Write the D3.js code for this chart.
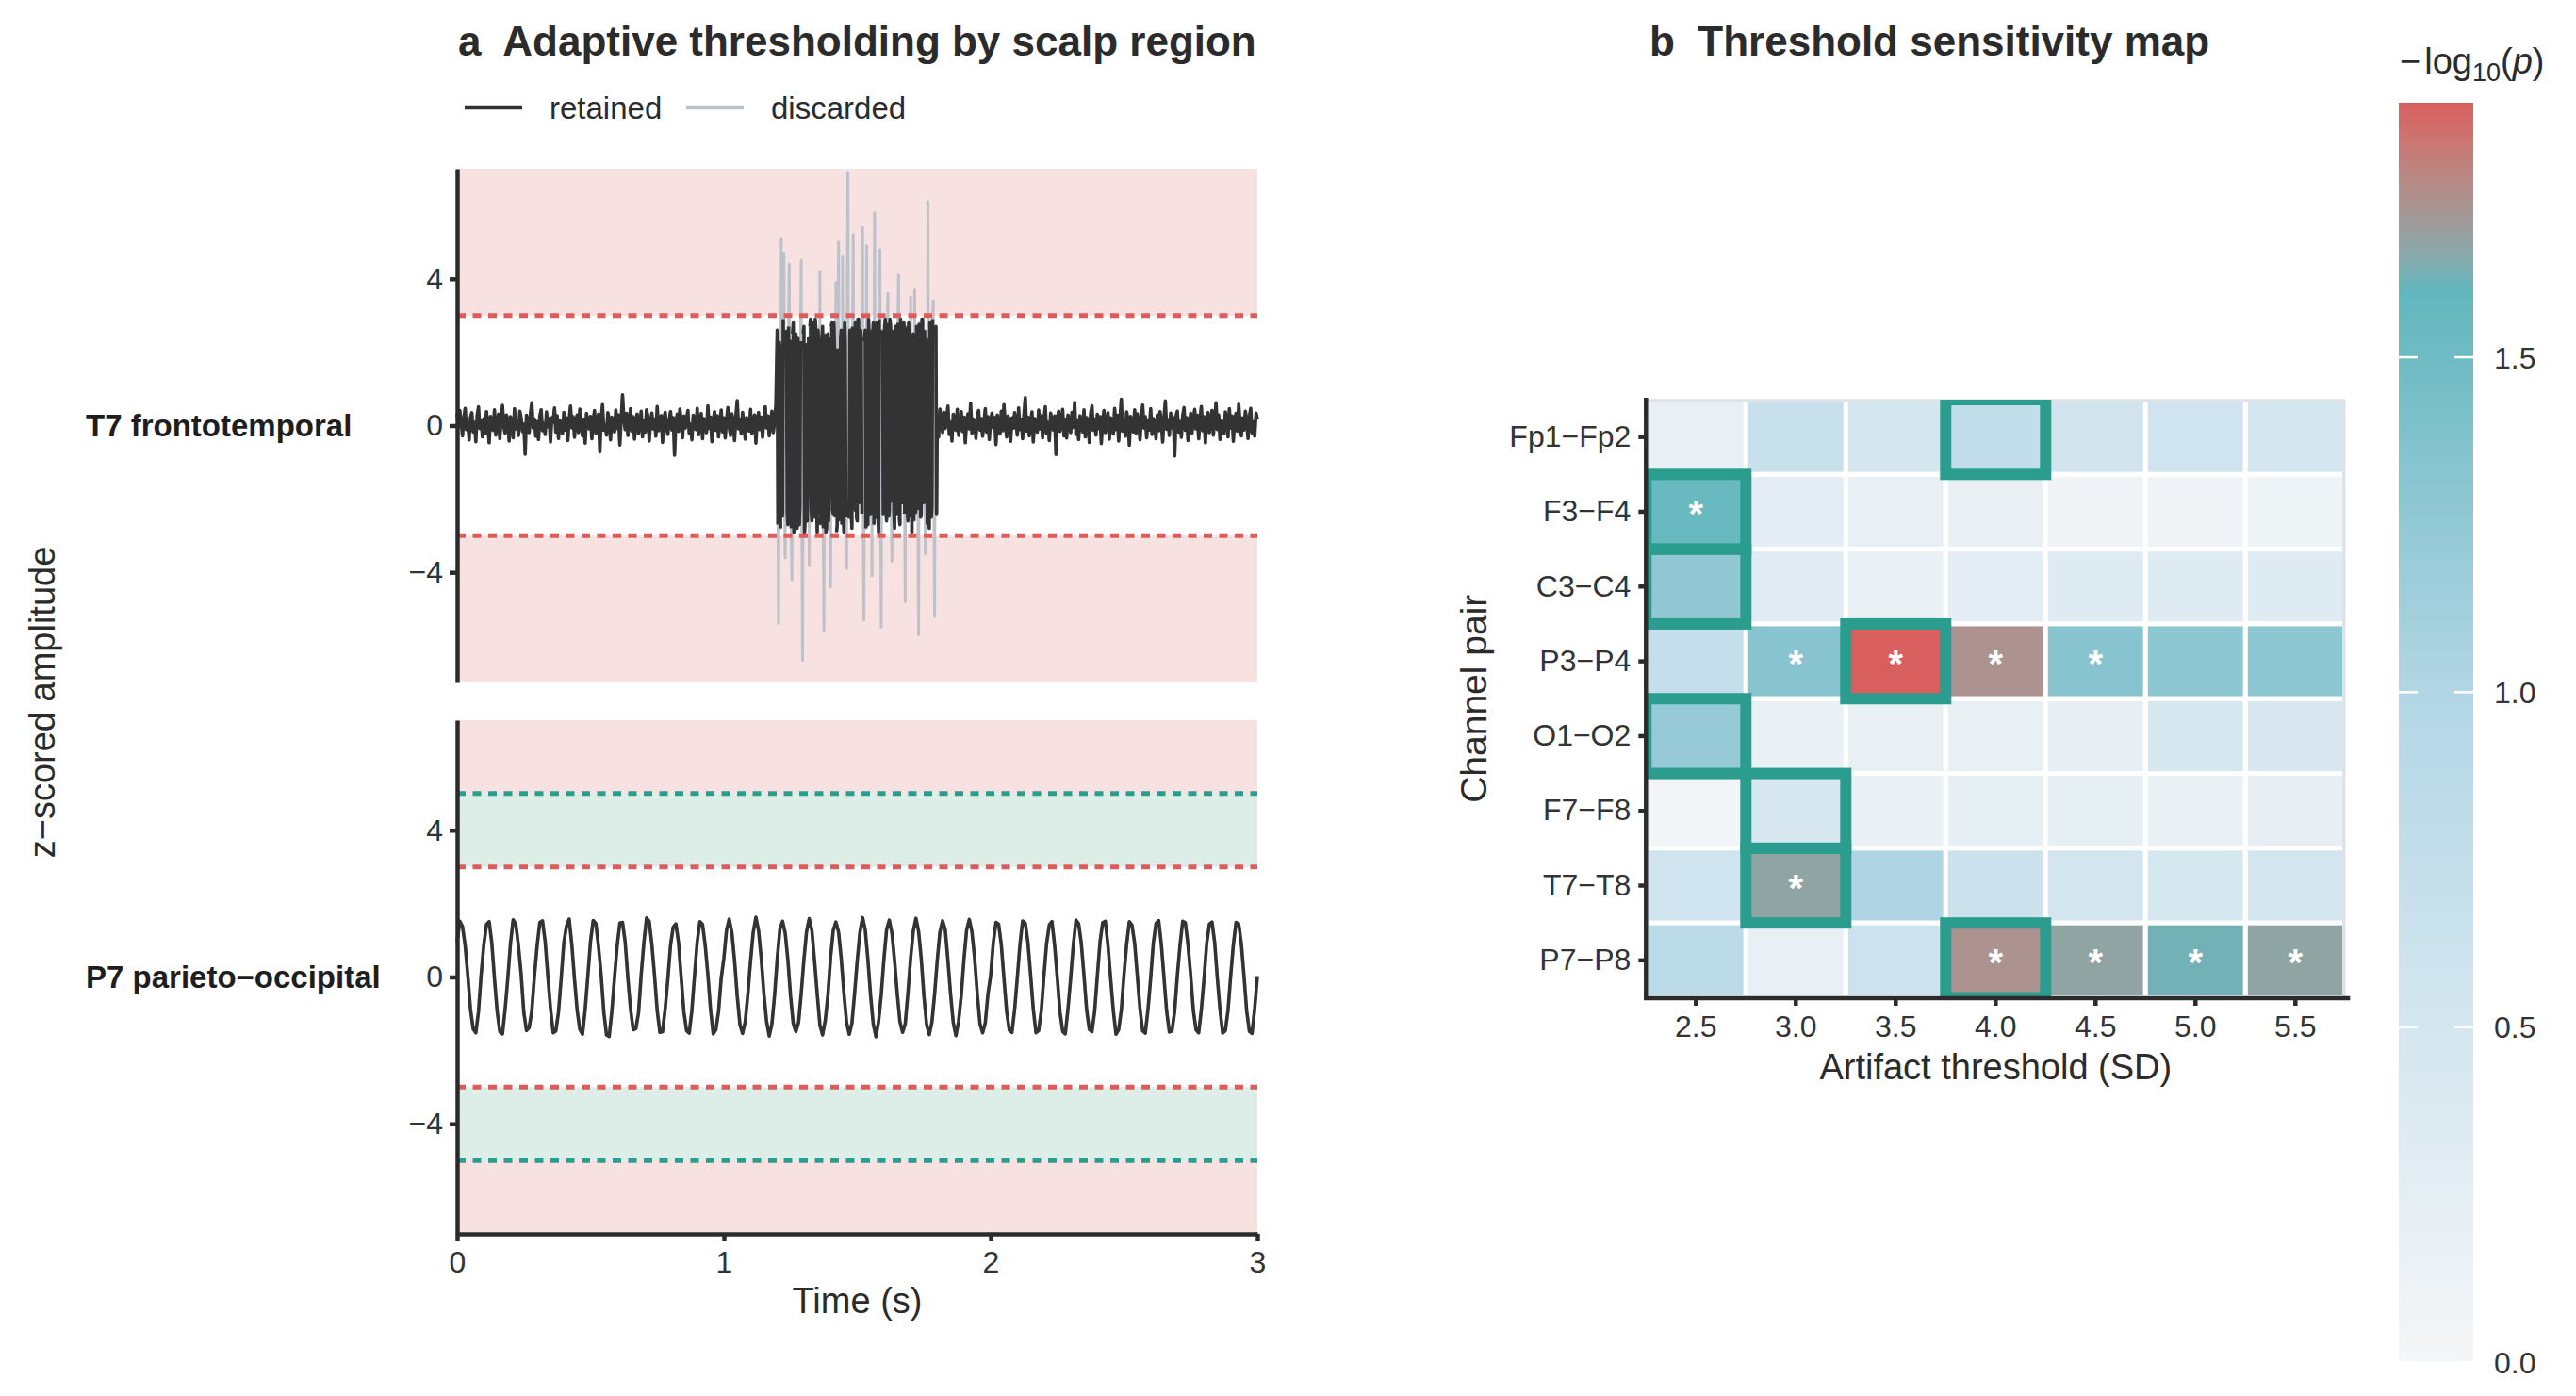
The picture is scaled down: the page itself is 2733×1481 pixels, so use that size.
<!DOCTYPE html>
<html><head><meta charset="utf-8">
<script src="https://cdn.jsdelivr.net/npm/d3@7"></script>
<style>
html,body{margin:0;padding:0;background:#fff;}
svg{display:block;}
text{font-family:"Liberation Sans",Arial,Helvetica,sans-serif;}
</style></head><body>
<svg id="chart" width="2733" height="1481"></svg>
<script>
// ================= DATA =================
// Panel a
const regionLabels = ["T7 frontotemporal", "P7 parieto\u2212occipital"];
const fixedThreshold = [3, 3];          // SD, red dashed
const adaptiveThreshold = [null, 5];    // SD, teal dashed
const timeTicks = [0, 1, 2, 3];
const ampTicks = [-4, 0, 4];
const legendLabels = ["retained", "discarded"];

// T7: pre-artifact baseline (0 - 1.2 s, 200 Hz)
const t7PreStart = 0, t7PreRate = 200;
const t7Pre = [
0.32,-0.05,0.41,0.12,-0.28,0.18,0.47,-0.11,0.06,-0.39,0.22,0.35,-0.17,0.09,-0.44,0.27,0.51,-0.08,0.14,-0.31,
0.19,-0.22,0.38,0.02,-0.47,0.25,0.11,-0.13,0.43,-0.26,0.08,0.31,-0.36,0.17,0.55,-0.04,-0.21,0.29,0.13,-0.42,
0.24,0.07,-0.33,0.46,-0.09,0.15,-0.27,0.39,0.21,-0.16,0.04,-0.78,0.28,0.12,-0.19,0.34,0.62,-0.07,0.18,-0.29,
0.11,-0.38,0.26,0.43,-0.14,0.05,-0.24,0.37,-0.03,0.19,-0.45,0.22,0.09,0.48,-0.18,0.27,-0.35,0.14,0.03,-0.22,
0.36,-0.12,0.21,-0.41,0.16,0.53,-0.06,0.24,-0.32,0.11,0.29,-0.19,0.45,0.07,-0.28,0.18,-0.48,0.33,0.12,-0.09,
0.25,-0.36,0.14,0.41,-0.21,0.08,0.31,-0.72,0.19,0.57,-0.13,0.02,-0.26,0.35,0.16,-0.39,0.23,0.06,-0.17,0.42,
-0.08,0.29,-0.53,0.17,0.84,0.21,-0.11,0.33,-0.27,0.09,0.46,-0.15,0.24,-0.37,0.12,0.31,-0.22,0.05,0.39,-0.31,
0.14,-0.18,0.43,0.26,-0.42,0.07,0.34,-0.09,0.18,-0.29,0.52,-0.14,0.11,0.27,-0.46,0.21,0.36,-0.05,-0.24,0.15,
0.38,-0.12,0.22,-0.81,0.09,0.31,-0.16,0.45,0.13,-0.33,0.26,-0.07,0.18,0.41,-0.21,0.04,-0.39,0.28,0.15,-0.11,
0.47,-0.25,0.12,0.33,-0.36,0.19,0.06,-0.19,0.54,-0.08,0.23,-0.44,0.16,0.38,-0.13,0.27,-0.31,0.09,0.42,-0.17,
0.21,-0.34,0.14,0.49,-0.05,-0.27,0.32,0.11,-0.41,0.25,0.68,-0.09,0.17,-0.23,0.36,0.04,-0.37,0.22,0.13,-0.15,
0.44,-0.21,0.08,0.29,-0.48,0.17,0.35,-0.11,0.23,-0.32,0.15,0.51,-0.06,0.26,-0.28,0.12,0.39,-0.19,0.07,0.58
];
// T7: muscle-artifact burst (1.2 - 1.8 s, 400 Hz)
const t7BurstStart = 1.2, t7BurstRate = 400;
const t7Burst = [
2.6,-2.7,-5.4,2.3,2.1,-2.8,5.1,-2.5,-2.4,2.9,4.7,-2.1,-3.6,2.6,1.8,-2.4,-2.7,2.7,4.4,-2.3,
2.3,-2.8,-4.2,2.5,2.8,-2.9,-1.9,2.1,2.5,-2.6,-2.8,2.4,1.6,-2.7,-2.2,2.3,4.5,-2.8,-6.4,2.5,
2.7,-2.9,-2.5,2.1,2.2,-2.6,-1.7,2.4,-3.8,2.7,2.9,-2.3,-2.6,2.8,1.9,-2.5,-2.3,2.9,2.6,-2.1,
-2.9,2.6,2.4,-2.4,4.2,-2.7,-2.1,2.3,2.7,-2.8,-5.6,2.5,2.2,-2.9,-2.8,2.1,2.5,-2.6,-1.8,2.4,
-4.4,2.7,2.8,-2.3,-2.4,2.8,2.0,-2.5,3.9,-2.9,-2.7,2.1,5.0,-2.6,-2.2,2.4,2.6,-2.7,4.6,-2.3,
-2.9,2.8,2.3,-2.5,-3.9,2.9,6.9,-2.1,-2.5,2.6,2.1,-2.4,-2.8,2.7,5.2,-2.3,-2.3,2.8,2.7,-2.5,
-2.6,2.9,2.9,-2.1,-2.0,2.6,2.4,-2.4,5.4,-2.7,-5.3,2.3,2.6,-2.8,4.9,-2.5,-2.7,2.9,2.2,-2.1,
-2.4,2.6,-4.1,2.4,2.8,-2.7,5.8,-2.3,-2.5,2.8,2.3,-2.5,-2.9,2.9,4.8,-2.1,-5.5,2.6,2.5,-2.4,
-2.2,2.7,2.9,-2.3,-2.6,2.8,3.6,-2.5,-2.3,2.9,2.7,-2.1,-3.7,2.6,2.1,-2.4,-2.8,2.7,2.6,-2.3,
-2.4,2.8,4.1,-2.5,-2.7,2.9,2.3,-2.1,-1.9,2.6,2.8,-2.4,-4.8,2.7,2.4,-2.3,-2.6,2.8,2.2,-2.5,
3.5,-2.9,-2.9,2.1,2.5,-2.6,3.7,-2.4,-2.3,2.7,2.7,-2.3,-5.7,2.8,2.6,-2.5,-2.4,2.9,2.9,-2.1,
-2.1,2.6,-3.5,2.4,2.3,-2.7,6.1,-2.3,-2.8,2.8,2.5,-2.5,-2.2,2.9,3.4,-2.1,-5.2,2.6,2.7,-2.4
];
// T7: post-artifact baseline (1.8 - 3.0 s, 200 Hz)
const t7PostStart = 1.8, t7PostRate = 200;
const t7Post = [
0.28,-0.31,0.45,0.12,-0.19,0.36,-0.08,0.21,0.53,-0.24,0.09,-0.42,0.31,0.17,-0.13,0.44,-0.27,0.06,0.38,-0.16,
0.23,-0.47,0.14,0.32,-0.09,0.61,-0.21,0.18,0.05,-0.35,0.27,0.41,-0.12,0.19,-0.29,0.08,0.46,-0.18,0.24,-0.38,
0.13,0.34,-0.06,0.22,-0.52,0.29,0.11,-0.23,0.39,-0.14,0.57,0.02,-0.31,0.26,0.15,-0.43,0.21,-0.07,0.35,0.09,
-0.26,0.48,-0.11,0.17,-0.36,0.31,0.76,-0.15,0.23,-0.28,0.12,0.37,-0.45,0.19,0.06,-0.18,0.42,-0.09,0.27,-0.33,
0.16,0.51,-0.22,0.08,-0.41,0.34,0.14,-0.12,0.26,-0.79,0.21,0.39,-0.16,0.07,0.44,-0.28,0.18,-0.34,0.29,0.11,
-0.19,0.36,-0.05,0.63,-0.24,0.15,-0.38,0.27,0.09,-0.17,0.43,-0.31,0.22,0.12,-0.46,0.33,0.54,-0.13,0.18,-0.26,
0.31,-0.08,0.24,-0.49,0.16,0.41,-0.19,0.06,0.35,-0.37,0.21,0.13,-0.23,0.47,-0.11,0.28,-0.42,0.19,0.72,-0.15,
0.09,-0.29,0.37,0.14,-0.54,0.25,0.08,-0.17,0.43,-0.21,0.32,0.11,-0.39,0.18,0.56,-0.07,0.24,-0.33,0.15,-0.12,
0.46,-0.24,0.19,0.07,-0.36,0.29,-0.14,0.38,0.12,-0.45,0.23,0.67,-0.10,0.16,-0.27,0.34,-0.06,0.21,-0.83,0.25,
0.39,-0.18,0.11,-0.32,0.27,0.49,-0.13,0.22,-0.41,0.06,0.33,-0.21,0.15,0.44,-0.09,0.28,-0.36,0.17,0.52,-0.14,
0.24,-0.47,0.13,0.35,-0.19,0.08,0.41,-0.26,0.18,0.62,-0.11,0.29,-0.38,0.14,0.05,-0.22,0.37,0.21,-0.31,0.46,
-0.07,0.26,-0.43,0.17,0.33,-0.15,0.58,0.09,-0.28,0.21,-0.12,0.39,0.16,-0.35,0.24,0.47,-0.20,0.10,-0.29,0.34,
0.18
];

// P7: alpha rhythm (0 - 3 s, 100 Hz)
const p7Start = 0, p7Rate = 100;
const p7Amplitude = [
0.95,1.52,1.38,0.86,0.04,-0.88,-1.41,-1.52,-0.95,0.06,
0.88,1.43,1.51,0.93,-0.05,-0.94,-1.49,-1.55,-0.87,-0.03,
0.92,1.56,1.44,0.84,0.07,-0.97,-1.46,-1.38,-0.92,0.05,
0.86,1.49,1.53,0.97,0.02,-0.85,-1.52,-1.47,-0.96,-0.04,
0.94,1.39,1.58,0.88,-0.06,-0.91,-1.43,-1.56,-0.89,0.03,
0.97,1.54,1.46,0.83,0.05,-0.96,-1.58,-1.62,-0.93,-0.02,
0.85,1.47,1.49,0.95,-0.03,-0.87,-1.44,-1.41,-0.98,0.06,
0.93,1.61,1.52,0.89,0.04,-0.92,-1.51,-1.49,-0.86,-0.05,
0.87,1.36,1.45,0.94,-0.02,-0.95,-1.46,-1.53,-0.91,0.04,
0.96,1.51,1.43,0.86,0.06,-0.89,-1.55,-1.44,-0.94,-0.03,
0.52,1.28,1.58,1.21,0.45,-0.51,-1.29,-1.54,-1.22,-0.46,
0.44,1.22,1.63,1.27,0.51,-0.45,-1.21,-1.61,-1.28,-0.50,
0.50,1.30,1.52,1.19,0.46,-0.52,-1.27,-1.49,-1.24,-0.44,
0.47,1.24,1.59,1.26,0.43,-0.47,-1.31,-1.58,-1.19,-0.49,
0.53,1.27,1.50,1.22,0.50,-0.44,-1.24,-1.56,-1.26,-0.45,
0.45,1.21,1.62,1.28,0.47,-0.50,-1.28,-1.63,-1.21,-0.48,
0.49,1.29,1.55,1.20,0.44,-0.46,-1.22,-1.51,-1.27,-0.43,
0.51,1.25,1.60,1.24,0.49,-0.53,-1.30,-1.57,-1.23,-0.47,
0.46,1.23,1.53,1.29,0.45,-0.48,-1.25,-1.60,-1.20,-0.50,
0.48,1.28,1.57,1.23,0.52,-0.45,-1.27,-1.52,-1.25,-0.46,
0.03,0.94,1.49,1.44,0.88,-0.04,-0.93,-1.45,-1.51,-0.89,
-0.02,0.89,1.53,1.47,0.93,0.05,-0.88,-1.52,-1.46,-0.92,
0.05,0.92,1.42,1.51,0.86,-0.03,-0.95,-1.48,-1.55,-0.87,
-0.04,0.87,1.55,1.45,0.91,0.04,-0.90,-1.43,-1.49,-0.94,
0.02,0.95,1.48,1.52,0.85,-0.05,-0.92,-1.56,-1.44,-0.90,
0.06,0.90,1.51,1.41,0.92,0.03,-0.87,-1.47,-1.53,-0.88,
-0.03,0.93,1.46,1.54,0.89,-0.02,-0.94,-1.50,-1.47,-0.93,
0.04,0.86,1.52,1.48,0.87,0.05,-0.91,-1.44,-1.52,-0.89,
-0.05,0.91,1.44,1.50,0.94,-0.04,-0.89,-1.53,-1.46,-0.91,
0.03,0.88,1.49,1.45,0.90,0.02,-0.93,-1.48,-1.54,-0.86,
0.02
];

// Panel b
const channelPairs = ["Fp1\u2212Fp2","F3\u2212F4","C3\u2212C4","P3\u2212P4","O1\u2212O2","F7\u2212F8","T7\u2212T8","P7\u2212P8"];
const thresholdsSD = [2.5, 3.0, 3.5, 4.0, 4.5, 5.0, 5.5];
const negLogP = [
  [0.18, 0.68, 0.50, 0.75, 0.55, 0.57, 0.50],
  [1.55, 0.28, 0.18, 0.20, 0.06, 0.07, 0.10],
  [1.26, 0.32, 0.17, 0.28, 0.34, 0.33, 0.33],
  [0.74, 1.33, 1.88, 1.73, 1.33, 1.29, 1.29],
  [1.23, 0.16, 0.20, 0.20, 0.21, 0.47, 0.43],
  [0.05, 0.44, 0.16, 0.22, 0.22, 0.16, 0.21],
  [0.57, 1.67, 1.02, 0.63, 0.51, 0.48, 0.51],
  [0.85, 0.18, 0.62, 1.73, 1.67, 1.62, 1.67]
];
const selectedThreshold = [4.0, 2.5, 2.5, 3.5, 2.5, 3.0, 3.0, 4.0];
const colorbarTicks = [0, 0.5, 1.0, 1.5];
const significanceLevel = 0.05;

// ================= DRAWING =================
const svg = d3.select("#chart");
const INK = "#2b2b2b";
const FONT = '"Liberation Sans", Arial, Helvetica, sans-serif';
const RED = "#dc5c5c", TEAL = "#2a9d8f", PINK = "#f8e1e1", MINT = "#ddeee9";

function styleAxis(g, fs) {
  g.attr("font-size", fs).attr("font-family", FONT);
  g.selectAll(".domain").attr("stroke", INK).attr("stroke-width", 4.5);
  g.selectAll(".tick line").attr("stroke", INK).attr("stroke-width", 4.5);
  g.selectAll(".tick text").attr("fill", "#333");
}
const toPoints = (vals, start, rate) => vals.map((v, i) => ({ t: start + i / rate, v }));

// ---- Panel a ----
const x = d3.scaleLinear().domain([0, 3]).range([485, 1334]);
const yScales = [
  d3.scaleLinear().domain([-7, 7]).range([724, 179]),
  d3.scaleLinear().domain([-7, 7]).range([1309, 764])
];
const series = [
  [].concat(toPoints(t7Pre, t7PreStart, t7PreRate),
            toPoints(t7Burst, t7BurstStart, t7BurstRate),
            toPoints(t7Post, t7PostStart, t7PostRate)),
  toPoints(p7Amplitude, p7Start, p7Rate)
];

yScales.forEach((y, k) => {
  const g = svg.append("g");
  const [x0, x1] = x.range();
  const band = (lo, hi, fill) => g.append("rect")
    .attr("x", x0).attr("width", x1 - x0)
    .attr("y", y(hi)).attr("height", y(lo) - y(hi)).attr("fill", fill);
  const ft = fixedThreshold[k], at = adaptiveThreshold[k];
  band(-7, 7, PINK);
  if (at != null) { band(ft, at, MINT); band(-at, -ft, MINT); }
  band(-ft, ft, "#ffffff");

  const line = d3.line().x(d => x(d.t)).y(d => y(d.v));
  g.append("path").datum(series[k]).attr("d", line)
    .attr("fill", "none").attr("stroke", "#bcc1ca").attr("stroke-width", 3)
    .attr("stroke-linejoin", "round");
  const keep = d3.line().defined(d => Math.abs(d.v) <= ft).x(d => x(d.t)).y(d => y(d.v));
  g.append("path").datum(series[k]).attr("d", keep)
    .attr("fill", "none").attr("stroke", "#333333").attr("stroke-width", 3.6)
    .attr("stroke-linejoin", "round");

  const hline = (v, col) => g.append("line")
    .attr("x1", x0).attr("x2", x1).attr("y1", y(v)).attr("y2", y(v))
    .attr("stroke", col).attr("stroke-width", 5).attr("stroke-dasharray", "9 7.5");
  hline(ft, RED); hline(-ft, RED);
  if (at != null) { hline(at, TEAL); hline(-at, TEAL); }

  const ax = g.append("g").attr("transform", `translate(${x0},0)`)
    .call(d3.axisLeft(y).tickValues(ampTicks).tickSize(8).tickSizeOuter(0).tickPadding(7));
  styleAxis(ax, 32);

  g.append("text").attr("x", 91).attr("y", y(0) + 11.8)
    .attr("font-size", 33).attr("font-weight", "bold").attr("fill", "#1e1e1e")
    .text(regionLabels[k]);
});

const xa = svg.append("g").attr("transform", `translate(0,${yScales[1].range()[0]})`)
  .call(d3.axisBottom(x).tickValues(timeTicks).tickFormat(d3.format("d")).tickSize(8).tickSizeOuter(0).tickPadding(10));
styleAxis(xa, 32);

svg.append("text").attr("x", (x.range()[0] + x.range()[1]) / 2).attr("y", 1393)
  .attr("text-anchor", "middle").attr("font-size", 38).attr("fill", INK).text("Time (s)");
svg.append("text").attr("transform", "translate(58,745) rotate(-90)")
  .attr("text-anchor", "middle").attr("font-size", 38).attr("fill", INK).text("z\u2212scored amplitude");

svg.append("text").attr("x", 486).attr("y", 59).attr("font-size", 44).attr("font-weight", "bold")
  .attr("fill", INK).style("white-space", "pre").text("a  Adaptive thresholding by scalp region");

// legend
const legendColors = ["#333333", "#bcc1ca"];
const legendX = [493, 728];
legendLabels.forEach((lab, i) => {
  svg.append("line").attr("x1", legendX[i]).attr("x2", legendX[i] + 61).attr("y1", 114).attr("y2", 114)
    .attr("stroke", legendColors[i]).attr("stroke-width", 4.5);
  svg.append("text").attr("x", legendX[i] + 90).attr("y", 125.7).attr("font-size", 33)
    .attr("fill", INK).text(lab);
});

// ---- Panel b ----
const hx = d3.scaleBand().domain(thresholdsSD).range([1746.3, 2488.3]);
const hy = d3.scaleBand().domain(channelPairs).range([424, 1058.5]);
const vmax = d3.max(negLogP.flat());
const color = d3.scaleLinear().domain([0, 1.0, 1.6, vmax])
  .range(["#f5f6f8", "#b2d6e6", "#61b6bd", "#d95f5f"]).interpolate(d3.interpolateLab).clamp(true);
const cells = channelPairs.flatMap((r, i) => thresholdsSD.map((c, j) => ({ r, c, v: negLogP[i][j] })));
const sigCut = -Math.log10(significanceLevel);

const defs = svg.append("defs");
defs.append("clipPath").attr("id", "hclip").append("rect")
  .attr("x", hx.range()[0]).attr("y", hy.range()[0])
  .attr("width", hx.range()[1] - hx.range()[0]).attr("height", hy.range()[1] - hy.range()[0]);

const hb = svg.append("g");
hb.selectAll("rect.cell").data(cells).join("rect").attr("class", "cell")
  .attr("x", d => hx(d.c)).attr("y", d => hy(d.r))
  .attr("width", hx.bandwidth()).attr("height", hy.bandwidth())
  .attr("fill", d => color(d.v)).attr("stroke", "#ffffff").attr("stroke-width", 5);

hb.append("rect").attr("x", hx.range()[0]).attr("y", 425)
  .attr("width", 740.5).attr("height", 634).attr("fill", "none")
  .attr("stroke", "#dde3e9").attr("stroke-width", 3.5);

hb.append("g").attr("clip-path", "url(#hclip)")
  .selectAll("rect").data(channelPairs.map((r, i) => ({ r, c: selectedThreshold[i] }))).join("rect")
  .attr("x", d => hx(d.c)).attr("y", d => hy(d.r))
  .attr("width", hx.bandwidth()).attr("height", hy.bandwidth())
  .attr("fill", "none").attr("stroke", TEAL).attr("stroke-width", 12);

hb.selectAll("text.star").data(cells.filter(d => d.v > sigCut)).join("text").attr("class", "star")
  .attr("x", d => hx(d.c) + hx.bandwidth() / 2).attr("y", d => hy(d.r) + hy.bandwidth() / 2 + 16.5)
  .attr("text-anchor", "middle").attr("font-size", 40).attr("font-weight", "bold")
  .attr("fill", "#ffffff").text("*");

const hxa = svg.append("g").attr("transform", `translate(0,1059)`)
  .call(d3.axisBottom(hx).tickFormat(d => d.toFixed(1)).tickSize(8).tickSizeOuter(0).tickPadding(10));
styleAxis(hxa, 32);
hxa.select(".domain").attr("d", `M${hx.range()[0] - 2.2},0H${hx.range()[1] + 5}`);
const hya = svg.append("g").attr("transform", `translate(${hx.range()[0]},0)`)
  .call(d3.axisLeft(hy).tickSize(8).tickSizeOuter(0).tickPadding(8));
styleAxis(hya, 32);
hya.select(".domain").attr("d", `M0,${hy.range()[0] - 2}V1061`);

svg.append("text").attr("x", (hx.range()[0] + hx.range()[1]) / 2).attr("y", 1145)
  .attr("text-anchor", "middle").attr("font-size", 38).attr("fill", INK).text("Artifact threshold (SD)");
svg.append("text").attr("transform", `translate(1577,${(hy.range()[0] + hy.range()[1]) / 2}) rotate(-90)`)
  .attr("text-anchor", "middle").attr("font-size", 39).attr("fill", INK).text("Channel pair");

svg.append("text").attr("x", 1750).attr("y", 59).attr("font-size", 44).attr("font-weight", "bold")
  .attr("fill", INK).style("white-space", "pre").text("b  Threshold sensitivity map");

// ---- Colorbar ----
const cbX = 2545, cbW = 79;
const cb = d3.scaleLinear().domain([0, vmax]).range([1445, 109]);
const grad = defs.append("linearGradient").attr("id", "cbgrad")
  .attr("x1", 0).attr("y1", 1).attr("x2", 0).attr("y2", 0);
d3.range(0, 61).forEach(k => {
  grad.append("stop").attr("offset", k / 60).attr("stop-color", color(vmax * k / 60));
});
svg.append("rect").attr("x", cbX).attr("y", cb(vmax)).attr("width", cbW)
  .attr("height", cb(0) - cb(vmax)).attr("fill", "url(#cbgrad)");
colorbarTicks.forEach(v => {
  [[cbX, cbX + 20], [cbX + cbW - 20, cbX + cbW]].forEach(([a, b]) => {
    svg.append("line").attr("x1", a).attr("x2", b).attr("y1", cb(v)).attr("y2", cb(v))
      .attr("stroke", "#ffffff").attr("stroke-width", 2.5);
  });
  svg.append("text").attr("x", 2646).attr("y", cb(v) + 11.5).attr("font-size", 32)
    .attr("fill", "#333").text(v.toFixed(1));
});
const cbt = svg.append("text").attr("x", 2546).attr("y", 78).attr("font-size", 38).attr("fill", INK);
cbt.append("tspan").text("\u2212");
cbt.append("tspan").attr("dx", 4).text("log");
cbt.append("tspan").attr("font-size", 27).attr("dy", 8).text("10");
cbt.append("tspan").attr("dy", -8).text("(");
cbt.append("tspan").attr("font-style", "italic").text("p");
cbt.append("tspan").text(")");
</script>
</body></html>
